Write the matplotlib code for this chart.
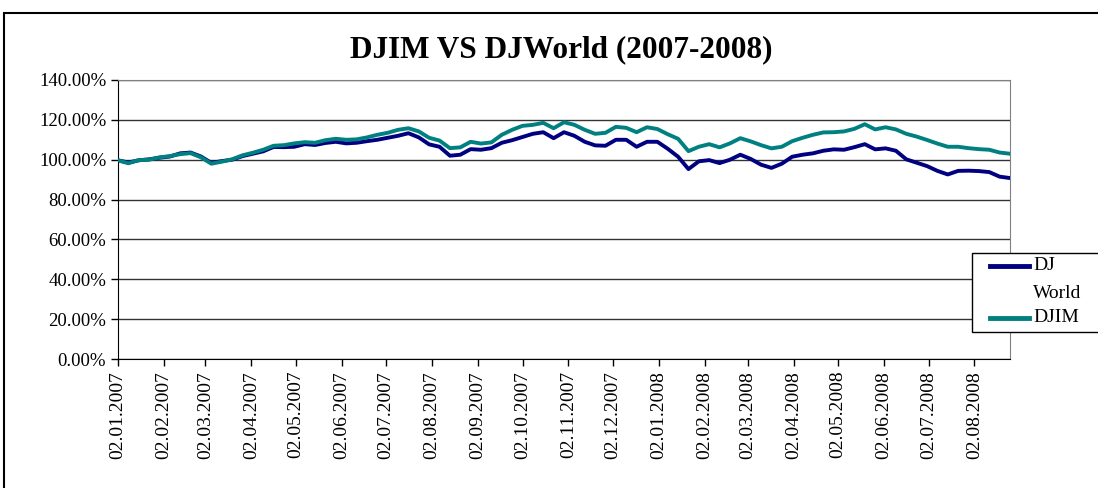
"""DJIM vs DJ World index comparison, 2007-2008."""
import numpy as np
import pandas as pd
import matplotlib
matplotlib.use("Agg")
import matplotlib.pyplot as plt
import matplotlib.dates as mdates
from matplotlib.ticker import FuncFormatter, MultipleLocator
from matplotlib.patches import Rectangle
from matplotlib.lines import Line2D

plt.rcParams["font.family"] = ["Liberation Serif", "DejaVu Serif"]

# weekly readings, index level in % of 02.01.2007
dates = pd.date_range("2007-01-02", periods=87, freq="7D")
djim = [99.7, 98.2, 99.8, 100.0, 101.2, 101.8, 102.8, 103.3, 101.2, 98.0,
        99.0, 100.2, 102.2, 103.5, 105.0, 107.0, 107.3, 108.2, 108.8, 108.5,
        109.8, 110.5, 110.0, 110.2, 111.2, 112.5, 113.5, 115.0, 115.8, 114.2,
        111.0, 109.6, 105.8, 106.2, 109.0, 108.1, 108.7, 112.5, 115.0, 117.0,
        117.5, 118.5, 115.8, 118.8, 117.5, 115.0, 113.0, 113.5, 116.5, 116.0,
        113.8, 116.3, 115.4, 112.8, 110.5, 104.3, 106.5, 107.8, 106.2, 108.2,
        110.8, 109.2, 107.3, 105.7, 106.5, 109.3, 111.0, 112.5, 113.7, 113.8,
        114.2, 115.5, 117.8, 115.2, 116.3, 115.2, 113.0, 111.6, 109.9, 108.1,
        106.5, 106.5, 105.8, 105.3, 105.0, 103.6, 103.0]
djworld = [99.7, 98.6, 99.7, 100.2, 101.0, 101.6, 103.2, 103.6, 101.6, 98.4,
           99.3, 100.0, 101.8, 103.0, 104.2, 106.4, 106.3, 106.5, 107.8, 107.4,
           108.4, 109.0, 108.2, 108.5, 109.3, 110.0, 111.0, 112.0, 113.3, 111.2,
           107.7, 106.5, 102.0, 102.5, 105.3, 105.0, 105.8, 108.5, 109.8, 111.4,
           113.0, 113.8, 110.8, 113.8, 112.0, 109.0, 107.2, 107.0, 110.0, 110.0,
           106.5, 109.0, 109.0, 105.5, 101.5, 95.3, 99.2, 99.8, 98.3, 100.0,
           102.5, 100.4, 97.5, 95.9, 98.0, 101.5, 102.5, 103.2, 104.5, 105.2,
           105.0, 106.3, 107.8, 105.2, 105.7, 104.5, 100.2, 98.5, 96.8, 94.4,
           92.6, 94.4, 94.5, 94.3, 93.8, 91.5, 90.8]

W, H = 1098, 488
fig = plt.figure(figsize=(W / 100, H / 100), dpi=100)
ax = fig.add_axes([118 / W, 1 - 359 / H, (1010 - 118) / W, (359 - 80) / H])

ax.plot(dates, djworld, color="#000080", lw=2.8, zorder=3)
ax.plot(dates, djim, color="#008080", lw=2.8, zorder=4)

ax.set_ylim(0, 140)
ax.yaxis.set_major_locator(MultipleLocator(20))
ax.yaxis.set_major_formatter(FuncFormatter(lambda v, p: "{:.2f}%".format(v)))
ax.set_xlim(dates[0], dates[-1])
ax.xaxis.set_major_locator(mdates.MonthLocator(bymonthday=2))
ax.xaxis.set_major_formatter(mdates.DateFormatter("%d.%m.%Y"))
ax.tick_params(axis="x", labelrotation=90, labelsize=14, length=5, width=1, direction="out")
ax.tick_params(axis="y", labelsize=13.5, length=5, width=1, direction="out")
ax.grid(axis="y", color="#333333", lw=1)
ax.set_axisbelow(True)
for s in ["top", "right"]:
    ax.spines[s].set_color("#808080")
ax.spines["left"].set_color("black")
ax.spines["bottom"].set_color("black")

fig.text(561 / W, 1 - 50 / H, "DJIM VS DJWorld (2007-2008)", ha="center", va="center",
         fontsize=22.5, fontweight="bold")

# outer chart frame
fig.add_artist(Rectangle((4 / W, -0.1), 1.2, 1.1 - 13 / H, transform=fig.transFigure,
                         fill=False, ec="black", lw=1.5))

# legend box, cut off at the right edge as in the original
fig.add_artist(Rectangle((972 / W, 1 - 332 / H), 0.2, (332 - 253) / H, transform=fig.transFigure,
                         fc="white", ec="black", lw=1, zorder=10))
for yy, col in [(266, "#000080"), (318, "#008080")]:
    fig.add_artist(Line2D([990 / W, 1029 / W], [1 - yy / H] * 2, transform=fig.transFigure,
                          color=col, lw=3.5, zorder=11))
for yy, txt in [(266, "DJ"), (294, "World"), (318, "DJIM")]:
    fig.text(1033 / W, 1 - yy / H, txt, ha="left", va="center", fontsize=14, zorder=12)

plt.savefig("out.png", dpi=100)
print("Saved out.png")
